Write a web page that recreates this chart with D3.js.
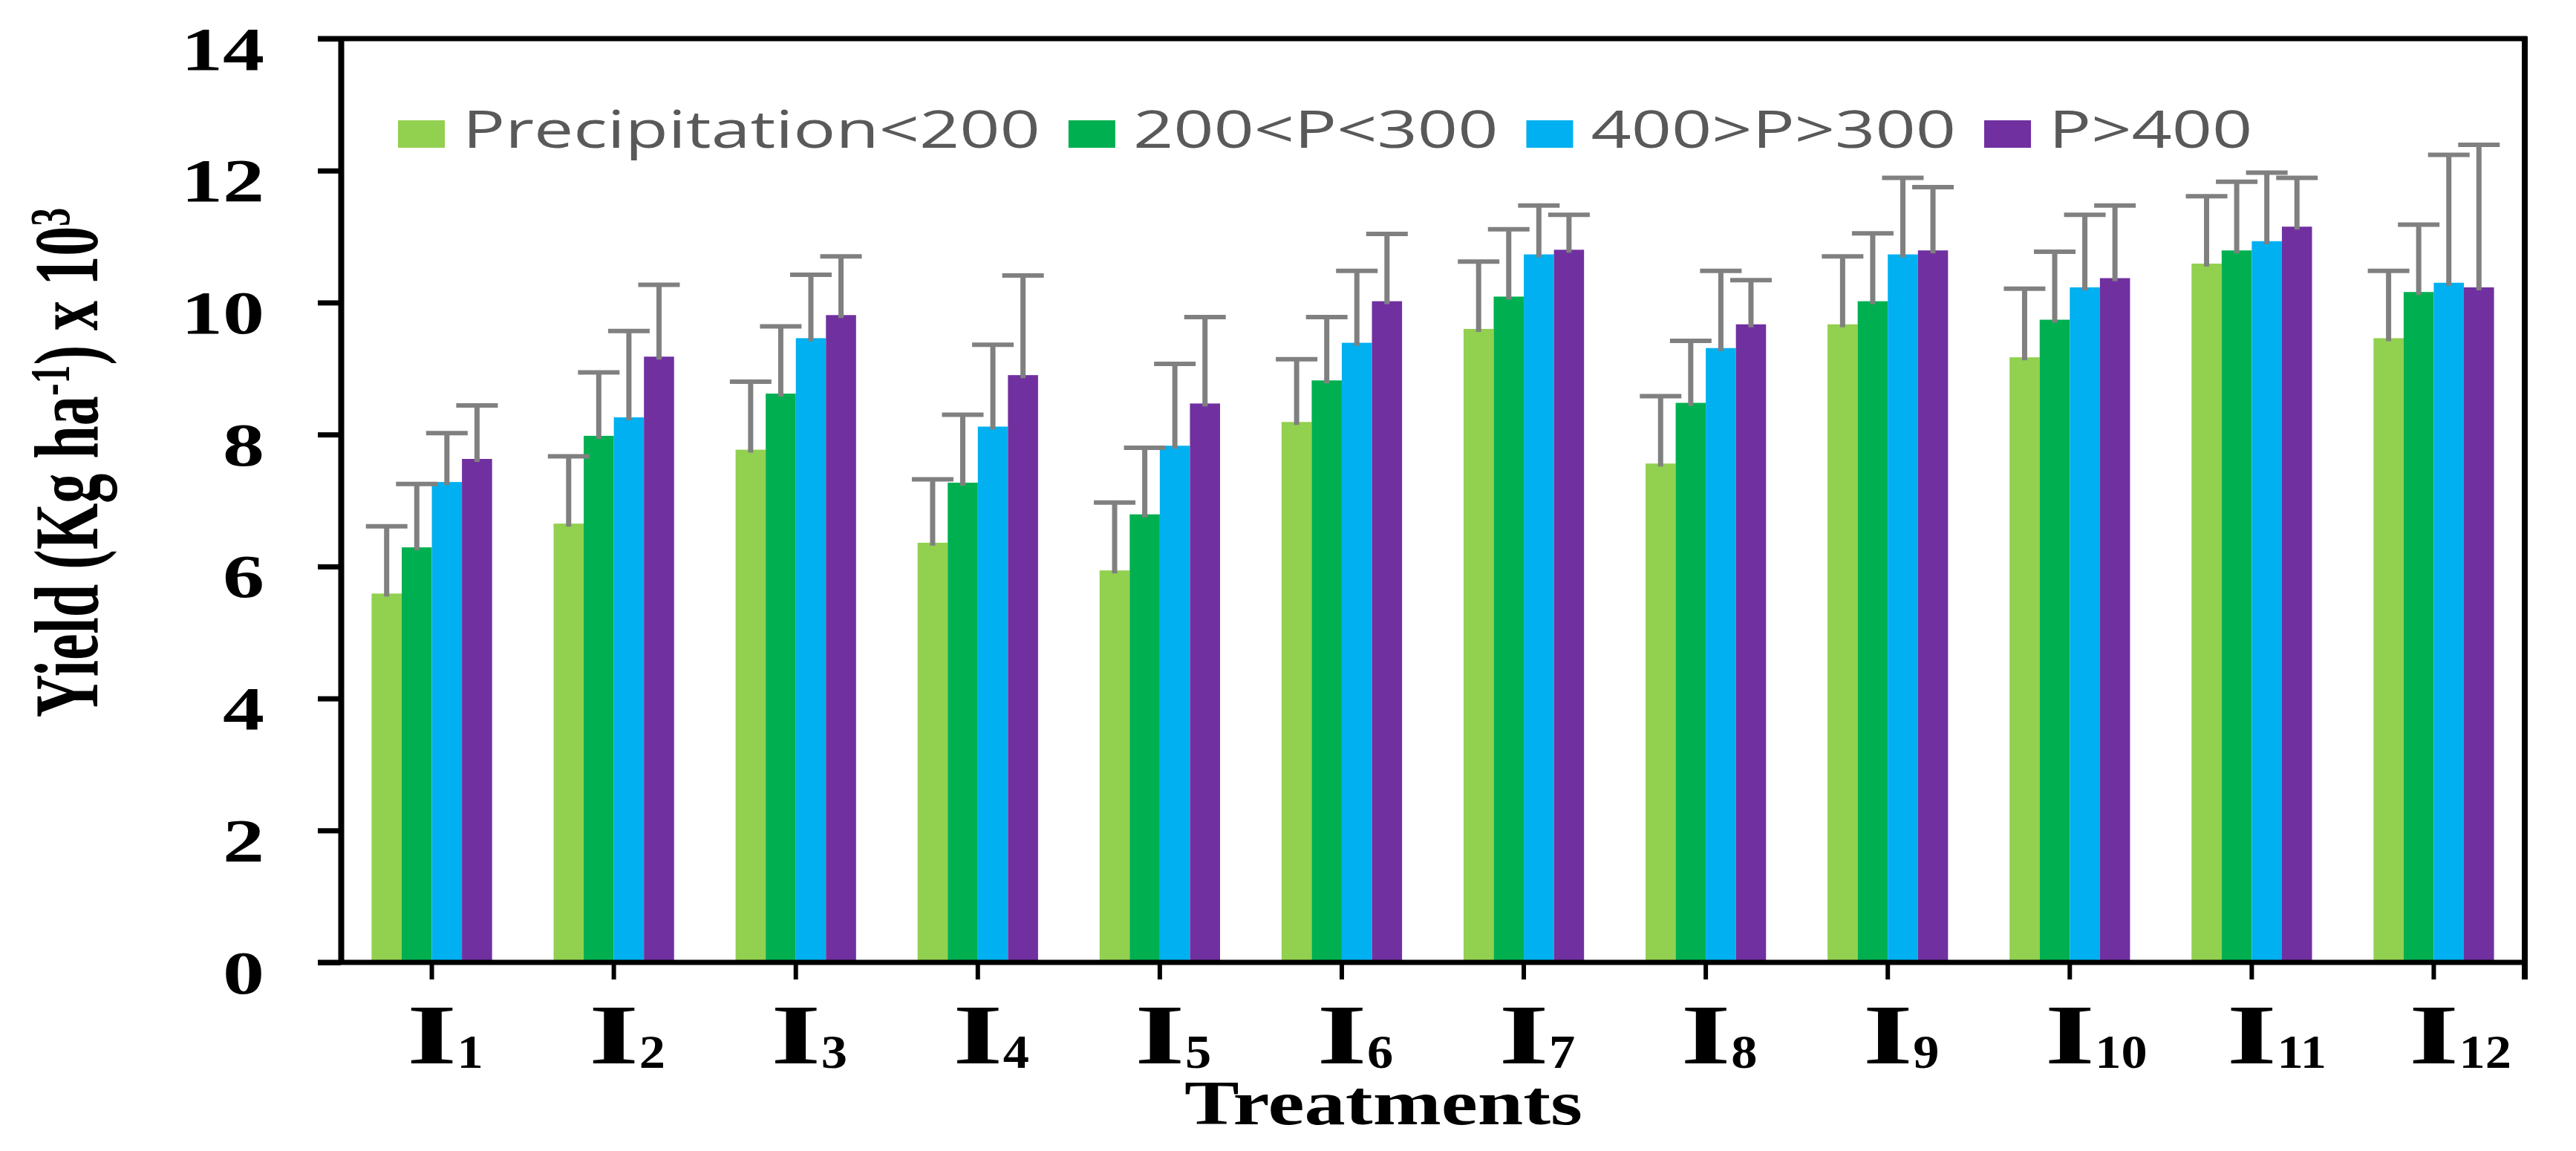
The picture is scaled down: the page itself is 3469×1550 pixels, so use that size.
<!DOCTYPE html>
<html>
<head>
<meta charset="utf-8">
<script src="https://cdn.jsdelivr.net/npm/d3@7"></script>
<style>
  html, body { margin: 0; padding: 0; background: #ffffff; }
  svg { display: block; }
</style>
</head>
<body>
<svg id="chart" width="3469" height="1550"></svg>
<script>
// ---------------- DATA ----------------
const treatments = ["1","2","3","4","5","6","7","8","9","10","11","12"];
const seriesNames = ["Precipitation<200", "200<P<300", "400>P>300", "P>400"];

const precipBelow200 = [5.59, 6.65, 7.77, 6.36, 5.94, 8.19, 9.60, 7.56, 9.67, 9.17, 10.59, 9.46];
const p200to300      = [6.29, 7.98, 8.62, 7.27, 6.79, 8.82, 10.09, 8.48, 10.02, 9.74, 10.79, 10.16];
const p300to400      = [7.28, 8.26, 9.46, 8.12, 7.83, 9.39, 10.73, 9.31, 10.73, 10.23, 10.93, 10.30];
const pAbove400      = [7.63, 9.18, 9.81, 8.90, 8.47, 10.02, 10.80, 9.67, 10.79, 10.37, 11.15, 10.23];

const errBelow200 = [1.02, 1.02, 1.03, 0.96, 1.03, 0.95, 1.02, 1.02, 1.03, 1.04, 1.02, 1.02];
const err200to300 = [0.96, 0.96, 1.02, 1.03, 1.01, 0.96, 1.02, 0.94, 1.03, 1.03, 1.04, 1.02];
const err300to400 = [0.74, 1.31, 0.96, 1.24, 1.24, 1.09, 0.74, 1.17, 1.16, 1.10, 1.04, 1.94];
const errAbove400 = [0.81, 1.09, 0.89, 1.51, 1.31, 1.02, 0.53, 0.67, 0.96, 1.10, 0.74, 2.16];

const yTicks = [0, 2, 4, 6, 8, 10, 12, 14];
const seriesColors = ["#92D050", "#00B050", "#00B0F0", "#7030A0"];

const yTitleMain = "Yield (Kg ha";
const yTitleSup1 = "-1";
const yTitleMid = ") x 10";
const yTitleSup2 = "3";
const xTitle = "Treatments";

// ---------------- BUILD ----------------
const values = [precipBelow200, p200to300, p300to400, pAbove400];
const errors = [errBelow200, err200to300, err300to400, errAbove400];
const rows = [];
treatments.forEach((t, i) => {
  seriesNames.forEach((s, j) => {
    rows.push({ t, s, j, v: values[j][i], e: errors[j][i] });
  });
});

const svg = d3.select("#chart");
svg.append("rect").attr("width", 3469).attr("height", 1550).attr("fill", "#ffffff");

const L = 459, R = 3400, T = 52, B = 1296;
const serif = "'Liberation Serif', 'Times New Roman', serif";
const sans = "'Open Sans', 'Noto Sans', sans-serif";

const x0 = d3.scaleBand().domain(treatments).range([L, R]).paddingInner(0.338).paddingOuter(0.169);
const x1 = d3.scaleBand().domain(seriesNames).range([0, x0.bandwidth()]);
const y = d3.scaleLinear().domain([0, 14]).range([B, T]);

// bars
const gBars = svg.append("g");
gBars.selectAll("rect").data(rows).join("rect")
  .attr("x", d => x0(d.t) + x1(d.s))
  .attr("y", d => y(d.v))
  .attr("width", x1.bandwidth())
  .attr("height", d => y(0) - y(d.v))
  .attr("fill", d => seriesColors[d.j]);

// error bars
const gErr = svg.append("g").attr("stroke", "#808080");
const cx = d => x0(d.t) + x1(d.s) + x1.bandwidth() / 2;
gErr.selectAll("line.v").data(rows).join("line").attr("class", "v")
  .attr("x1", cx).attr("x2", cx)
  .attr("y1", d => y(d.v) + 4).attr("y2", d => y(d.v + d.e))
  .attr("stroke-width", 7);
gErr.selectAll("line.c").data(rows).join("line").attr("class", "c")
  .attr("x1", d => cx(d) - 28).attr("x2", d => cx(d) + 28)
  .attr("y1", d => y(d.v + d.e)).attr("y2", d => y(d.v + d.e))
  .attr("stroke-width", 6);

// y axis
const yAxis = d3.axisLeft(y).tickValues(yTicks).tickSize(31).tickSizeOuter(0).tickFormat(d3.format("d"));
const gy = svg.append("g").attr("transform", `translate(${L},0)`).call(yAxis);
gy.select(".domain").attr("stroke", "#000").attr("stroke-width", 8);
gy.selectAll(".tick line").attr("stroke", "#000").attr("stroke-width", 7);
gy.selectAll(".tick text")
  .attr("x", 0).attr("dy", null).attr("y", 0)
  .attr("transform", "translate(-103,41) scale(1.35,1)")
  .attr("text-anchor", "end")
  .attr("fill", "#000")
  .style("font-family", serif).style("font-weight", "bold").style("font-size", "83px");
gy.attr("font-family", null).attr("font-size", null);

// x axis
const xAxis = d3.axisBottom(x0).tickSize(23).tickSizeOuter(0).tickFormat("");
const gx = svg.append("g").attr("transform", `translate(0,${B})`).call(xAxis);
gx.select(".domain").attr("stroke", "#000").attr("stroke-width", 7)
  .attr("d", `M${L - 31},0H${R}`);
gx.selectAll(".tick line").attr("stroke", "#000").attr("stroke-width", 6);
gx.selectAll(".tick text").remove();
gx.selectAll(".tick").each(function(d) {
  const g = d3.select(this);
  g.append("text")
    .attr("transform", "translate(0,136) scale(1.5,1)")
    .attr("text-anchor", "middle")
    .attr("fill", "#000")
    .style("font-family", serif).style("font-weight", "bold").style("font-size", "115px")
    .text("I");
  g.append("text")
    .attr("transform", "translate(34,142) scale(1.1,1)")
    .attr("text-anchor", "start")
    .attr("fill", "#000")
    .style("font-family", serif).style("font-weight", "bold").style("font-size", "64px")
    .text(d);
});

// frame: top border and right border
svg.append("line").attr("x1", L - 31).attr("x2", R + 3).attr("y1", y(14)).attr("y2", y(14))
  .attr("stroke", "#000").attr("stroke-width", 7);
svg.append("line").attr("x1", R).attr("x2", R).attr("y1", y(14) - 3).attr("y2", B + 23)
  .attr("stroke", "#000").attr("stroke-width", 8);

// legend
const legend = svg.append("g");
const legSx = 1.357;
let lx = 536;
seriesNames.forEach((s, j) => {
  legend.append("rect").attr("x", lx).attr("y", 162).attr("width", 63).attr("height", 37)
    .attr("fill", seriesColors[j]);
  const tx = lx + 63 + 24;
  const t = legend.append("text")
    .attr("transform", `translate(${tx},199) scale(${legSx},1)`)
    .attr("fill", "#595959")
    .style("font-family", sans).style("font-size", "70px")
    .text(s);
  const w = t.node().getComputedTextLength() * legSx;
  lx = tx + w + 38;
});

// y title
const yt = svg.append("text")
  .attr("transform", "translate(131,623) rotate(-90) scale(0.89,1.36)")
  .attr("text-anchor", "middle")
  .attr("fill", "#000")
  .style("font-family", serif).style("font-weight", "bold").style("font-size", "90px");
yt.append("tspan").text(yTitleMain);
yt.append("tspan").attr("dy", -28).style("font-size", "56px").text(yTitleSup1);
yt.append("tspan").attr("dy", 28).text(yTitleMid);
yt.append("tspan").attr("dy", -28).style("font-size", "56px").text(yTitleSup2);

// x title
svg.append("text")
  .attr("transform", "translate(1863,1514) scale(1.3,1)")
  .attr("text-anchor", "middle")
  .attr("fill", "#000")
  .style("font-family", serif).style("font-weight", "bold").style("font-size", "85px")
  .text(xTitle);
</script>
</body>
</html>
